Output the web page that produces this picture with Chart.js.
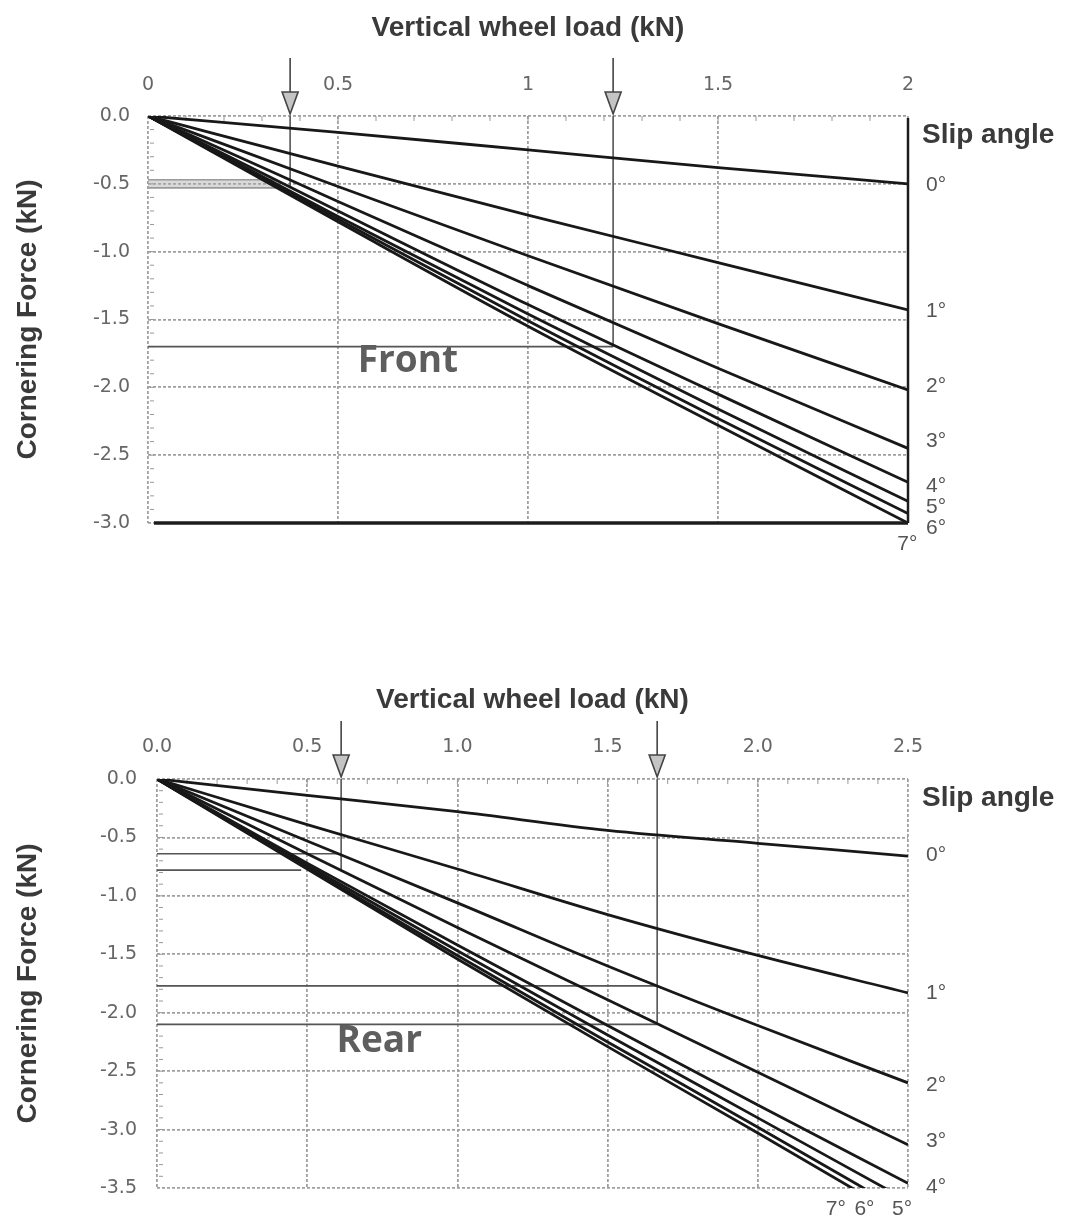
<!DOCTYPE html>
<html>
<head>
<meta charset="utf-8">
<script src="https://cdn.jsdelivr.net/npm/chart.js@4.4.1/dist/chart.umd.min.js"></script>
<style>
  body { margin: 0; background: #fff; }
  .panel { position: absolute; left: 0; width: 1070px; }
</style>
</head>
<body>
<div class="panel" style="top:0;height:560px"><canvas id="front"></canvas></div>
<div class="panel" style="top:560px;height:665px"><canvas id="rear"></canvas></div>
<script>
// slip angles, one curve each
const slipAngles = ['0°', '1°', '2°', '3°', '4°', '5°', '6°', '7°'];

// Front tyre: vertical wheel load (kN) and cornering force (kN)
const frontLoad = [0, 0.5, 1, 1.5, 2];
const frontSlip0 = [0, -0.12, -0.25, -0.38, -0.50];
const frontSlip1 = [0, -0.37, -0.73, -1.08, -1.43];
const frontSlip2 = [0, -0.52, -1.03, -1.53, -2.02];
const frontSlip3 = [0, -0.63, -1.25, -1.86, -2.45];
const frontSlip4 = [0, -0.70, -1.39, -2.05, -2.70];
const frontSlip5 = [0, -0.74, -1.46, -2.16, -2.84];
const frontSlip6 = [0, -0.76, -1.51, -2.23, -2.93];
const frontSlip7 = [0, -0.78, -1.55, -2.28, -3.00];
const frontXTicks = ['0', '0.5', '1', '1.5', '2'];
const frontYTicks = ['0.0', '-0.5', '-1.0', '-1.5', '-2.0', '-2.5', '-3.0'];

// Rear tyre
const rearLoad = [0, 0.5, 1, 1.5, 2, 2.5];
const rearSlip0 = [0, -0.14, -0.28, -0.44, -0.55, -0.66];
const rearSlip1 = [0, -0.39, -0.77, -1.16, -1.51, -1.83];
const rearSlip2 = [0, -0.53, -1.06, -1.60, -2.11, -2.60];
const rearSlip3 = [0, -0.64, -1.27, -1.89, -2.51, -3.13];
const rearSlip4 = [0, -0.72, -1.42, -2.11, -2.79, -3.46];
const rearSlip5 = [0, -0.74, -1.47, -2.19, -2.90, -3.61];
const rearSlip6 = [0, -0.76, -1.51, -2.25, -2.98, -3.72];
const rearSlip7 = [0, -0.77, -1.54, -2.29, -3.03, -3.78];
const rearXTicks = ['0.0', '0.5', '1.0', '1.5', '2.0', '2.5'];
const rearYTicks = ['0.0', '-0.5', '-1.0', '-1.5', '-2.0', '-2.5', '-3.0', '-3.5'];

// arrow marks (load) and the read-off guide lines
const frontMarkLoad = [0.374, 1.224];
const frontMarkDepth = [-0.52, -1.70];
const frontLevelY = [-0.47, -0.53, -1.70];
const frontLevelEnd = [0.34, 0.34, 1.224];
const rearMarkLoad = [0.613, 1.665];
const rearMarkDepth = [-0.78, -2.10];
const rearLevelY = [-0.64, -0.78, -1.77, -2.10];
const rearLevelEnd = [0.613, 0.48, 1.665, 1.665];

const pts = (xs, ys) => xs.map((v, i) => ({x: v, y: ys[i]}));

function curves(load, series) {
  return series.map((s, i) => ({
    label: slipAngles[i],
    data: pts(load, s),
    borderColor: '#181818',
    borderWidth: 2.8,
    pointRadius: 0,
    cubicInterpolationMode: 'monotone',
    order: 0
  }));
}

function guides(markLoad, markDepth, levelY, levelEnd, band) {
  const out = [];
  levelY.forEach((v, i) => out.push({
    data: [{x: 0, y: v}, {x: levelEnd[i], y: v}],
    borderColor: band && i < 2 ? '#9a9a9a' : '#555',
    backgroundColor: 'rgba(170,170,170,0.45)',
    fill: band && i === 1 ? '-1' : false,
    borderWidth: 1.6, pointRadius: 0, order: 5
  }));
  markLoad.forEach((v, i) => out.push({
    data: [{x: v, y: 0}, {x: v, y: markDepth[i]}],
    borderColor: '#555', borderWidth: 1.6, pointRadius: 0, order: 5
  }));
  return out;
}

const decor = {
  id: 'decor',
  beforeDatasetsDraw(chart, args, o) {
    const {ctx, chartArea: a, scales: {x, y}} = chart;
    ctx.save();
    ctx.strokeStyle = '#999';
    ctx.lineWidth = 1;
    for (let v = 0.1; v < x.max - 0.01; v += 0.1) {
      const px = x.getPixelForValue(v);
      ctx.beginPath(); ctx.moveTo(px, a.top); ctx.lineTo(px, a.top + 5); ctx.stroke();
    }
    for (let v = -0.1; v > y.min + 0.01; v -= 0.1) {
      const py = y.getPixelForValue(v);
      ctx.beginPath(); ctx.moveTo(a.left + 2, py); ctx.lineTo(a.left + 6, py); ctx.stroke();
    }
    ctx.restore();
  },
  afterDatasetsDraw(chart, args, o) {
    const {ctx, chartArea: a, scales: {x, y}} = chart;
    ctx.save();
    if (o.solidFrame) {
      ctx.strokeStyle = '#1c1c1c';
      ctx.lineWidth = 2.5;
      ctx.beginPath(); ctx.moveTo(a.right, a.top + 2); ctx.lineTo(a.right, a.bottom); ctx.stroke();
      ctx.lineWidth = 3.5;
      ctx.beginPath(); ctx.moveTo(a.left + 6, a.bottom); ctx.lineTo(a.right, a.bottom); ctx.stroke();
    }
    // arrows above the plot
    o.arrows.forEach(v => {
      const px = x.getPixelForValue(v);
      ctx.strokeStyle = '#444';
      ctx.lineWidth = 1.6;
      ctx.beginPath(); ctx.moveTo(px, a.top - 58); ctx.lineTo(px, a.top - 24); ctx.stroke();
      ctx.beginPath();
      ctx.moveTo(px - 8, a.top - 24); ctx.lineTo(px + 8, a.top - 24); ctx.lineTo(px, a.top - 2);
      ctx.closePath();
      ctx.fillStyle = '#c4c4c4'; ctx.fill(); ctx.stroke();
    });
    // slip angle labels
    ctx.fillStyle = '#3a3a3a';
    ctx.font = 'bold 28px "Liberation Sans", Arial, sans-serif';
    ctx.textAlign = 'left'; ctx.textBaseline = 'middle';
    ctx.fillText('Slip angle', a.right + 14, a.top + 19);
    ctx.fillStyle = '#555';
    ctx.font = '21px "Liberation Sans", Arial, sans-serif';
    o.sideLabels.forEach(([i, v]) => ctx.fillText(slipAngles[i], a.right + 18, y.getPixelForValue(v)));
    ctx.textAlign = 'center';
    o.bottomLabels.forEach(([i, v]) => ctx.fillText(slipAngles[i], x.getPixelForValue(v), a.bottom + 21));
    // panel name
    ctx.fillStyle = '#5e5e5e';
    ctx.font = 'bold 37px "Open Sans", sans-serif';
    ctx.fillText(o.name[0], x.getPixelForValue(o.name[1]), y.getPixelForValue(o.name[2]));
    ctx.restore();
  }
};

function makeChart(id, load, series, xTicks, yTicks, xMax, yMin, yPad, titleTop, tickPad, guideSets, deco) {
  return new Chart(document.getElementById(id), {
    type: 'line',
    data: {datasets: curves(load, series).concat(guideSets)},
    plugins: [decor],
    options: {
      responsive: true,
      maintainAspectRatio: false,
      animation: false,
      layout: {padding: {left: 0, top: 0, right: 162, bottom: 37}},
      plugins: {legend: {display: false}, tooltip: {enabled: false}, decor: deco},
      scales: {
        x: {
          type: 'linear', position: 'top', min: 0, max: xMax,
          afterFit: s => { s.height = yPad.top; },
          ticks: {stepSize: 0.5, padding: tickPad, color: '#666',
                  font: {family: '"DejaVu Sans", Verdana, sans-serif', size: 19},
                  callback: (v, i) => xTicks[i]},
          grid: {color: '#a0a0a0', lineWidth: 1.8, drawTicks: false, tickLength: 0},
          border: {display: false, dash: [3, 2]},
          title: {display: true, text: 'Vertical wheel load (kN)', color: '#3a3a3a',
                  padding: {top: titleTop, bottom: 0},
                  font: {family: '"Liberation Sans", Arial, sans-serif', size: 28, weight: 'bold'}}
        },
        y: {
          min: yMin, max: 0,
          afterFit: s => { s.width = yPad.left; },
          ticks: {stepSize: 0.5, padding: yPad.tick, color: '#666',
                  font: {family: '"DejaVu Sans", Verdana, sans-serif', size: 19},
                  callback: (v, i, t) => yTicks[t.length - 1 - i]},
          grid: {color: '#a0a0a0', lineWidth: 1.8, drawTicks: false, tickLength: 0},
          border: {display: false, dash: [3, 2]},
          title: {display: true, text: 'Cornering Force (kN)', color: '#3a3a3a',
                  padding: {top: 11, bottom: 0},
                  font: {family: '"Liberation Sans", Arial, sans-serif', size: 28, weight: 'bold'}}
        }
      }
    }
  });
}

makeChart('front', frontLoad,
  [frontSlip0, frontSlip1, frontSlip2, frontSlip3, frontSlip4, frontSlip5, frontSlip6, frontSlip7],
  frontXTicks, frontYTicks, 2, -3, {top: 116, left: 148, tick: 18}, 11, 20,
  guides(frontMarkLoad, frontMarkDepth, frontLevelY, frontLevelEnd, true),
  {solidFrame: true, arrows: frontMarkLoad,
   sideLabels: [[0, -0.51], [1, -1.44], [2, -1.99], [3, -2.40], [4, -2.73], [5, -2.88], [6, -3.04]],
   bottomLabels: [[7, 1.998]], name: ['Front', 0.684, -1.81]});

makeChart('rear', rearLoad,
  [rearSlip0, rearSlip1, rearSlip2, rearSlip3, rearSlip4, rearSlip5, rearSlip6, rearSlip7],
  rearXTicks, rearYTicks, 2.5, -3.5, {top: 219, left: 157, tick: 20}, 123, 21,
  guides(rearMarkLoad, rearMarkDepth, rearLevelY, rearLevelEnd, false),
  {solidFrame: false, arrows: rearMarkLoad,
   sideLabels: [[0, -0.65], [1, -1.83], [2, -2.62], [3, -3.10], [4, -3.49]],
   bottomLabels: [[7, 2.26], [6, 2.355], [5, 2.48]], name: ['Rear', 0.74, -2.25]});
</script>
</body>
</html>
